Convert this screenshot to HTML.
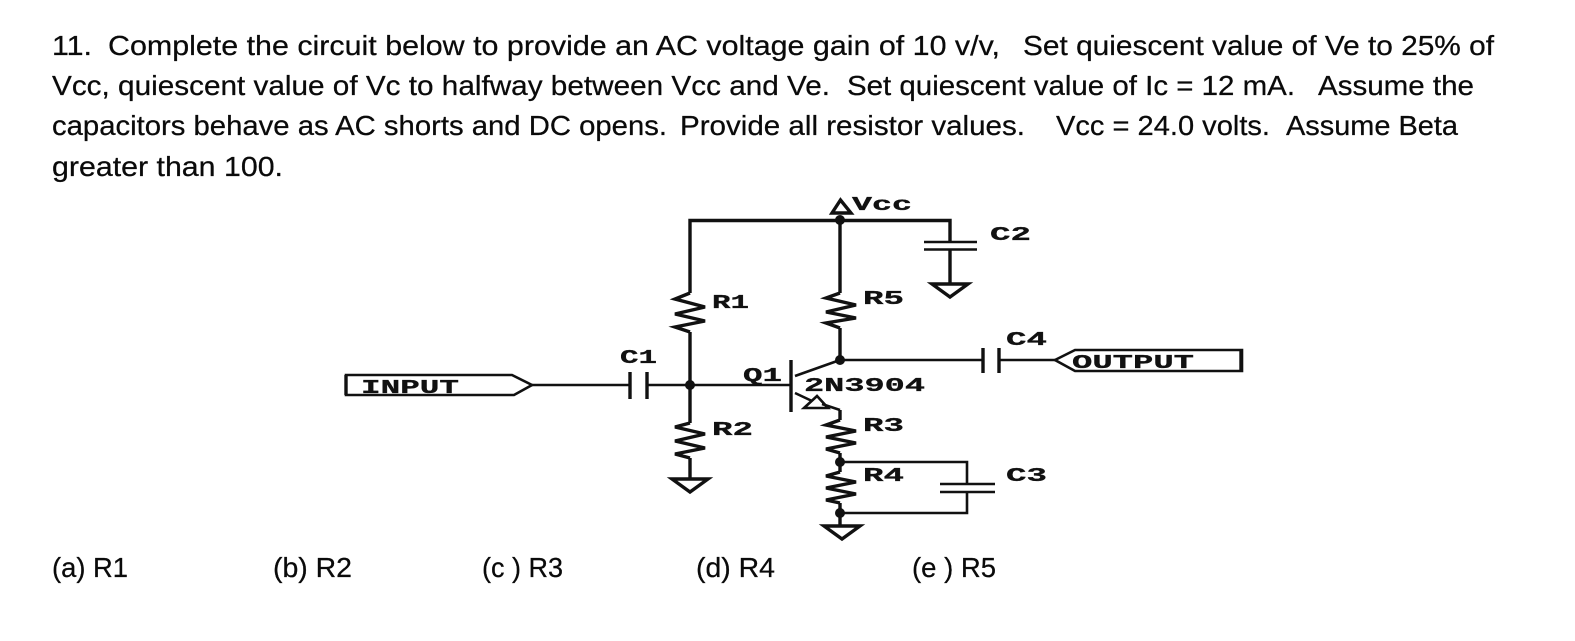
<!DOCTYPE html>
<html><head><meta charset="utf-8"><style>
html,body{margin:0;padding:0;background:#fff;width:1575px;height:641px;overflow:hidden}
svg{display:block}
.t{font-family:"Liberation Sans",sans-serif;font-size:28px;fill:#0a0a0a;stroke:#0a0a0a;stroke-width:.25}
.c{font-family:"Liberation Mono",monospace;font-weight:bold;fill:#111;stroke:#111;stroke-width:.3;font-size:19px}
.w{fill:none;stroke:#111;stroke-width:3.4}
.n{fill:none;stroke:#111;stroke-width:2.6}
</style></head><body>
<svg width="1575" height="641" viewBox="0 0 1575 641" xmlns="http://www.w3.org/2000/svg">
<g class="t">
<text x="52" y="55" textLength="40" lengthAdjust="spacingAndGlyphs">11.</text>
<text x="108" y="55" textLength="892" lengthAdjust="spacingAndGlyphs">Complete the circuit below to provide an AC voltage gain of 10 v/v,</text>
<text x="1023" y="55" textLength="471" lengthAdjust="spacingAndGlyphs">Set quiescent value of Ve to 25% of</text>
<text x="52" y="95" textLength="778" lengthAdjust="spacingAndGlyphs">Vcc, quiescent value of Vc to halfway between Vcc and Ve.</text>
<text x="847" y="95" textLength="448" lengthAdjust="spacingAndGlyphs">Set quiescent value of Ic = 12 mA.</text>
<text x="1318" y="95" textLength="156" lengthAdjust="spacingAndGlyphs">Assume the</text>
<text x="52" y="135" textLength="615" lengthAdjust="spacingAndGlyphs">capacitors behave as AC shorts and DC opens.</text>
<text x="680" y="135" textLength="345" lengthAdjust="spacingAndGlyphs">Provide all resistor values.</text>
<text x="1056" y="135" textLength="214" lengthAdjust="spacingAndGlyphs">Vcc = 24.0 volts.</text>
<text x="1286" y="135" textLength="172" lengthAdjust="spacingAndGlyphs">Assume Beta</text>
<text x="52" y="176" textLength="231" lengthAdjust="spacingAndGlyphs">greater than 100.</text>
<text x="52" y="577" textLength="76" lengthAdjust="spacingAndGlyphs">(a) R1</text>
<text x="273" y="577" textLength="79" lengthAdjust="spacingAndGlyphs">(b) R2</text>
<text x="482" y="577" textLength="81" lengthAdjust="spacingAndGlyphs">(c ) R3</text>
<text x="696" y="577" textLength="79" lengthAdjust="spacingAndGlyphs">(d) R4</text>
<text x="912" y="577" textLength="84" lengthAdjust="spacingAndGlyphs">(e ) R5</text>
</g>

<!-- wires -->
<path class="w" d="M690 293V220.500H950V242M950 249V284M840 220V293M840 328V360M690 332V423M690 458V479M840 410V420M840 453V472M840 503V526"/>
<path class="n" d="M840 360H983M999 360H1055M532 385H630M647 385H791M795 376L840 360M795 393L812 401M822 404L834 408L840 410M840 462H967V484M967 492V513H840"/>
<!-- resistors -->
<path class="w" d="M690 293L675 299L705 307L675 314L705 321L675 327L690 332"/>
<path class="w" d="M840 293L826 298L856 305L826 312L856 318L826 323L840 328"/>
<path class="w" d="M690 423L675 427L705 434L675 441L705 448L675 454L690 458"/>
<path class="w" d="M840 420L826 425L856 431L826 437L856 443L826 449L840 453"/>
<path class="w" d="M840 472L826 476L856 482L826 488L856 494L826 500L840 503"/>
<!-- capacitors -->
<path class="n" d="M924 242H977M924 249.500H977M940 484H995M940 492H995"/>
<path class="w" d="M630 372V399M647 372V399M983 348V373M999 348V373"/>
<!-- transistor -->
<path class="w" d="M791 360V412"/>
<path class="n" d="M804 408H828L817 396Z"/>
<!-- grounds -->
<path class="w" d="M932 284H968L950 297Z"/>
<path class="w" d="M672 479H708L690 492Z"/>
<path class="w" d="M824 526H860L842 539Z"/>
<!-- Vcc arrow -->
<path class="w" d="M832 213H851L840.500 200Z"/>
<!-- junctions -->
<g fill="#111"><circle cx="840" cy="220" r="5"/><circle cx="840" cy="360" r="5"/><circle cx="690" cy="385" r="5"/><circle cx="840" cy="462" r="5"/><circle cx="840" cy="513" r="5"/></g>
<!-- ports -->
<path class="n" d="M346 375H512L532 385L514 395H346Z"/>
<path class="w" d="M346 375V395"/>
<path class="n" d="M1055 360L1075 350H1242V371H1075Z"/>
<path class="w" d="M1241 350V371"/>
<!-- labels -->
<g class="c">
<text x="852" y="210" textLength="60" lengthAdjust="spacingAndGlyphs">Vcc</text>
<text x="990" y="240" textLength="41" lengthAdjust="spacingAndGlyphs">C2</text>
<text x="712" y="308" textLength="37" lengthAdjust="spacingAndGlyphs">R1</text>
<text x="863" y="304" textLength="41" lengthAdjust="spacingAndGlyphs">R5</text>
<text x="1006" y="345" textLength="41" lengthAdjust="spacingAndGlyphs">C4</text>
<text x="620" y="363" textLength="37" lengthAdjust="spacingAndGlyphs">C1</text>
<text x="743" y="381" textLength="39" lengthAdjust="spacingAndGlyphs">Q1</text>
<text x="804" y="391" textLength="121" lengthAdjust="spacingAndGlyphs">2N3904</text>
<text x="712" y="435" textLength="41" lengthAdjust="spacingAndGlyphs">R2</text>
<text x="863" y="431" textLength="41" lengthAdjust="spacingAndGlyphs">R3</text>
<text x="863" y="481" textLength="41" lengthAdjust="spacingAndGlyphs">R4</text>
<text x="1006" y="481" textLength="41" lengthAdjust="spacingAndGlyphs">C3</text>
<text x="361" y="393" textLength="98" lengthAdjust="spacingAndGlyphs">INPUT</text>
<text x="1072" y="368" textLength="122" lengthAdjust="spacingAndGlyphs">OUTPUT</text>
</g>
</svg>
</body></html>
